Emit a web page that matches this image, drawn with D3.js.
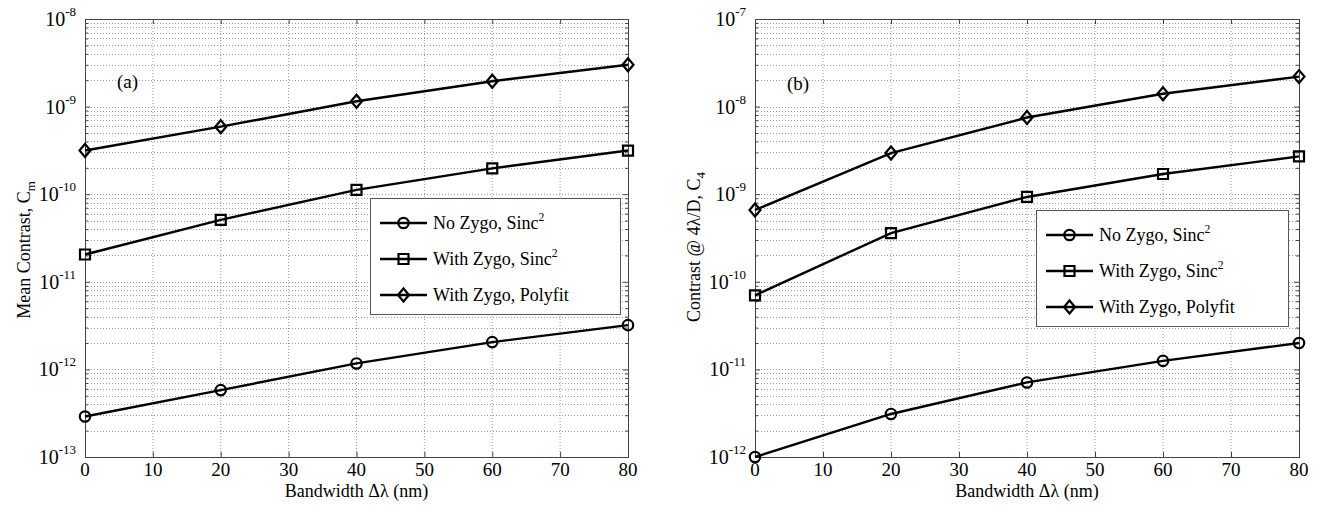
<!DOCTYPE html>
<html>
<head>
<meta charset="utf-8">
<script src="https://cdn.jsdelivr.net/npm/d3@7"></script>
<style>
  body { margin: 0; background: #fff; }
  svg { display: block; }
  text { font-family: "Liberation Serif", "Times New Roman", serif; fill: #000; }
</style>
</head>
<body>
<svg id="chart" width="1317" height="505"></svg>
<script>
// ---------- Data ----------
const bandwidth = [0, 20, 40, 60, 80];
const seriesLabels = ["No Zygo, Sinc^2", "With Zygo, Sinc^2", "With Zygo, Polyfit"];
const seriesMarkers = ["circle", "square", "diamond"];

// (a) mean contrast C_m
const meanNoZygo   = [2.9e-13, 5.8e-13, 1.17e-12, 2.05e-12, 3.2e-12];
const meanZygoSinc = [2.05e-11, 5.1e-11, 1.12e-10, 1.97e-10, 3.15e-10];
const meanZygoPoly = [3.15e-10, 5.9e-10, 1.15e-9, 1.95e-9, 3.0e-9];

// (b) contrast at 4 lambda/D, C_4
const c4NoZygo   = [1.0e-12, 3.1e-12, 7.1e-12, 1.25e-11, 2.0e-11];
const c4ZygoSinc = [7.0e-11, 3.6e-10, 9.3e-10, 1.7e-9, 2.7e-9];
const c4ZygoPoly = [6.6e-10, 2.95e-9, 7.5e-9, 1.4e-8, 2.2e-8];

const xTicks = [0, 10, 20, 30, 40, 50, 60, 70, 80];
const yExpA = [-13, -12, -11, -10, -9, -8];
const yExpB = [-12, -11, -10, -9, -8, -7];

const svg = d3.select("#chart");

// marker shapes (open, MATLAB style)
function markerPath(type) {
  if (type === "circle") return d3.symbol(d3.symbolCircle, Math.PI * 5.2 * 5.2)();
  if (type === "square") return "M-5,-5H5V5H-5Z";
  return "M0,-6.5L5.5,0L0,6.5L-5.5,0Z";
}

// text with a ^superscript part
function addSupText(sel, label, size) {
  const [base, sup] = label.split("^");
  sel.append("tspan").text(base);
  if (sup) sel.append("tspan").attr("dy", -size * 0.42).attr("font-size", size * 0.65).text(sup);
}

function drawPanel(cfg) {
  const { left, right, top, bottom } = cfg;
  const g = svg.append("g");

  const x = d3.scaleLinear().domain([0, 80]).range([left, right]);
  const exps = cfg.exps;
  const y = d3.scaleLog()
    .domain([Math.pow(10, exps[0]), Math.pow(10, exps[exps.length - 1])])
    .range([bottom, top]);

  const majors = exps.map(e => Math.pow(10, e));
  const minors = [];
  exps.slice(0, -1).forEach(e => {
    for (let k = 2; k <= 9; k++) minors.push(k * Math.pow(10, e));
  });

  // ---- grid ----
  const grid = g.append("g")
    .attr("stroke", "#9a9a9a")
    .attr("stroke-width", 1)
    .attr("stroke-dasharray", "1,2");
  grid.selectAll(".gx").data(xTicks.slice(1, -1)).join("line")
    .attr("x1", d => x(d)).attr("x2", d => x(d))
    .attr("y1", top).attr("y2", bottom);
  grid.selectAll(".gy").data(majors.slice(1, -1).concat(minors)).join("line")
    .attr("x1", left).attr("x2", right)
    .attr("y1", d => Math.round(y(d)) + 0.5).attr("y2", d => Math.round(y(d)) + 0.5);

  // ---- axes (ticks inward) ----
  const tickStyle = s => {
    s.select(".domain").remove();
    s.selectAll(".tick line").attr("stroke", "#444");
    s.selectAll(".tick text").remove();
  };
  g.append("g").attr("transform", `translate(0,${bottom})`)
    .call(d3.axisBottom(x).tickValues(xTicks).tickSize(-5).tickSizeOuter(0)).call(tickStyle);
  g.append("g").attr("transform", `translate(0,${top})`)
    .call(d3.axisTop(x).tickValues(xTicks).tickSize(-5).tickSizeOuter(0)).call(tickStyle);
  g.append("g").attr("transform", `translate(${left},0)`)
    .call(d3.axisLeft(y).tickValues(majors).tickSize(-5).tickSizeOuter(0)).call(tickStyle);
  g.append("g").attr("transform", `translate(${left},0)`)
    .call(d3.axisLeft(y).tickValues(minors).tickSize(-3).tickSizeOuter(0)).call(tickStyle);
  g.append("g").attr("transform", `translate(${right},0)`)
    .call(d3.axisRight(y).tickValues(majors).tickSize(-5).tickSizeOuter(0)).call(tickStyle);
  g.append("g").attr("transform", `translate(${right},0)`)
    .call(d3.axisRight(y).tickValues(minors).tickSize(-3).tickSizeOuter(0)).call(tickStyle);

  g.append("rect")
    .attr("x", left + 0.5).attr("y", top + 0.5)
    .attr("width", right - left).attr("height", bottom - top)
    .attr("fill", "none").attr("stroke", "#444").attr("stroke-width", 1);

  // ---- tick labels ----
  g.selectAll(".xl").data(xTicks).join("text")
    .attr("x", d => x(d)).attr("y", bottom + 19)
    .attr("text-anchor", "middle").attr("font-size", 19)
    .text(d => d);

  g.selectAll(".yl").data(exps).join("text")
    .attr("x", left - 9).attr("y", d => y(Math.pow(10, d)) + 7)
    .attr("text-anchor", "end").attr("font-size", 20)
    .each(function (d) {
      const t = d3.select(this);
      t.append("tspan").text("10");
      t.append("tspan").attr("dy", -10).attr("font-size", 13).text(d);
    });

  // ---- axis titles ----
  g.append("text")
    .attr("x", (left + right) / 2).attr("y", bottom + 40)
    .attr("text-anchor", "middle").attr("font-size", 18)
    .text("Bandwidth \u0394\u03bb (nm)");

  const yt = g.append("text")
    .attr("transform", `translate(${cfg.yTitleX},${cfg.yTitleY}) rotate(-90)`)
    .attr("text-anchor", "middle").attr("font-size", 18);
  yt.append("tspan").text(cfg.yTitle);
  yt.append("tspan").attr("dy", 5).attr("font-size", 13).text(cfg.yTitleSub);

  // panel tag
  g.append("text")
    .attr("x", cfg.tagX).attr("y", cfg.tagY)
    .attr("font-family", "Liberation Sans, Arial, sans-serif")
    .attr("font-size", 19)
    .text(cfg.tag);

  // ---- series ----
  const line = d3.line().x((d, i) => x(bandwidth[i])).y(d => y(d));
  cfg.series.forEach((vals, si) => {
    g.append("path").datum(vals)
      .attr("d", line)
      .attr("fill", "none").attr("stroke", "#000").attr("stroke-width", 2.4);
    g.selectAll(null).data(vals).join("path")
      .attr("transform", (d, i) => `translate(${x(bandwidth[i])},${y(d)})`)
      .attr("d", markerPath(seriesMarkers[si]))
      .attr("fill", "none").attr("stroke", "#000").attr("stroke-width", 2.2);
  });

  // ---- legend ----
  const lg = cfg.legend;
  const L = g.append("g").attr("transform", `translate(${lg.x},${lg.y})`);
  L.append("rect")
    .attr("x", 0.5).attr("y", 0.5).attr("width", lg.w).attr("height", lg.h)
    .attr("fill", "#fff").attr("stroke", "#555").attr("stroke-width", 1);
  seriesLabels.forEach((lab, i) => {
    const cy = 25 + i * 36;
    L.append("line")
      .attr("x1", 10).attr("x2", 57).attr("y1", cy).attr("y2", cy)
      .attr("stroke", "#000").attr("stroke-width", 2.4);
    L.append("path")
      .attr("transform", `translate(33.5,${cy})`)
      .attr("d", markerPath(seriesMarkers[i]))
      .attr("fill", "none").attr("stroke", "#000").attr("stroke-width", 2.2);
    const t = L.append("text").attr("x", 63).attr("y", cy + 6).attr("font-size", 18);
    addSupText(t, lab, 18);
  });
}

drawPanel({
  left: 85, right: 628, top: 19, bottom: 457,
  exps: yExpA,
  series: [meanNoZygo, meanZygoSinc, meanZygoPoly],
  yTitle: "Mean Contrast, C", yTitleSub: "m",
  yTitleX: 30, yTitleY: 250,
  tag: "(a)", tagX: 117, tagY: 88,
  legend: { x: 370, y: 198, w: 250, h: 116 }
});

drawPanel({
  left: 755, right: 1299, top: 19, bottom: 457,
  exps: yExpB,
  series: [c4NoZygo, c4ZygoSinc, c4ZygoPoly],
  yTitle: "Contrast @ 4\u03bb/D, C", yTitleSub: "4",
  yTitleX: 700, yTitleY: 247,
  tag: "(b)", tagX: 787, tagY: 90,
  legend: { x: 1036, y: 210, w: 252, h: 116 }
});
</script>
</body>
</html>
